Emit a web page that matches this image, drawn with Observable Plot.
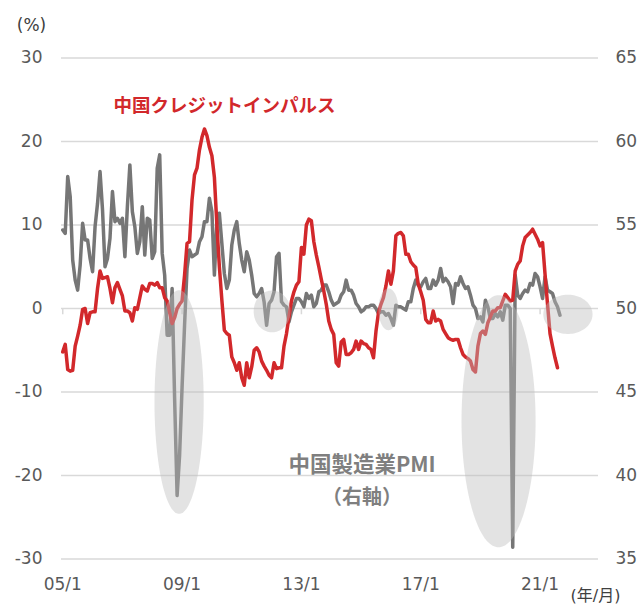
<!DOCTYPE html>
<html>
<head>
<meta charset="utf-8">
<script src="https://cdn.jsdelivr.net/npm/d3@7"></script>
<script src="https://cdn.jsdelivr.net/npm/@observablehq/plot@0.6"></script>
<style>
  html, body { margin: 0; padding: 0; background: #ffffff; }
  #chart { width: 640px; height: 605px; }
</style>
</head>
<body>
<div id="chart"></div>
<script>
// Monthly series, first value = January 2005
const startLabel = "2005-01";

// China credit impulse (%), left axis, Jan 2005 – Aug 2021
const creditImpulse = [
  -5.2, -4.3, -7.3, -7.5, -7.4, -4.5, -3.3, -2.0, -0.1, 0.0, -1.8, -0.5,   // 2005
  -0.4, -0.4, 2.4, 4.5, 3.6, 3.7, 3.8, 2.4, 0.7, 2.5, 3.1, 2.3,            // 2006
  1.5, -0.3, -0.3, -0.5, -1.5, 0.1, -0.1, 1.3, 2.7, 2.3, 2.1, 3.0,         // 2007
  3.0, 2.8, 3.1, 2.5, 2.5, 1.3, 0.9, -0.5, -1.8, -1.1, 0.0, 0.5,          // 2008
  0.9, 4.0, 7.8, 8.0, 13.0, 16.0, 16.8, 19.0, 20.5, 21.5, 20.7, 19.3,      // 2009
  18.3, 15.7, 10.0, 5.0, 1.0, -2.6, -3.0, -3.2, -5.8, -6.5, -7.4, -6.5,    // 2010
  -8.3, -9.2, -6.5, -8.3, -7.0, -5.0, -4.7, -5.2, -6.3, -6.9, -7.4, -8.0,  // 2011
  -8.3, -6.5, -7.2, -7.1, -7.1, -4.5, -3.0, -1.0, 0.9, 2.0, 2.8, 3.2,      // 2012
  7.3, 6.5, 10.0, 10.7, 10.5, 8.0, 6.4, 5.0, 3.5, 2.1, 0.5, -1.5,          // 2013
  -2.5, -3.1, -6.5, -6.9, -4.0, -3.7, -5.5, -5.5, -5.3, -4.9, -3.9, -4.9,  // 2014
  -3.9, -4.2, -4.3, -4.7, -4.9, -5.9, -2.7, -0.5, 0.5, 1.3, 2.7, 4.5,      // 2015
  2.9, 4.5, 8.7, 9.0, 9.1, 8.7, 6.5, 6.5, 5.6, 5.2, 4.9, 2.9,              // 2016
  2.0, 1.0, -1.3, -1.7, -1.7, -0.3, -1.5, -1.3, -1.5, -2.5, -3.0, -3.5,    // 2017
  -3.7, -3.8, -3.7, -3.7, -4.7, -5.5, -5.8, -6.0, -6.3, -7.3, -7.6, -4.5,  // 2018
  -3.0, -2.7, -3.1, -1.7, -1.0, -0.3, -0.3, 0.1, 0.1, 0.9, 1.7, 1.3,       // 2019
  0.9, 1.0, 4.5, 5.3, 5.7, 7.5, 8.5, 8.8, 9.1, 9.5, 8.9, 8.3,              // 2020
  7.5, 7.9, 4.1, 0.5, -3.0, -4.5, -5.9, -7.1                               // 2021
];

// China manufacturing PMI, right axis, Jan 2005 – Sep 2021
const pmi = [
  54.7, 54.5, 57.9, 56.7, 52.9, 51.7, 51.1, 52.6, 55.1, 54.1, 54.1, 53.0,  // 2005
  52.2, 54.9, 56.3, 58.2, 55.9, 52.5, 53.0, 54.2, 57.0, 55.2, 55.4, 55.1,  // 2006
  55.4, 53.1, 56.1, 58.6, 55.8, 54.9, 53.3, 54.0, 56.1, 53.2, 55.4, 55.3,  // 2007
  53.0, 53.4, 58.4, 59.2, 53.3, 52.0, 48.4, 48.4, 51.2, 44.6, 38.8, 41.2,  // 2008
  45.3, 49.0, 52.4, 53.5, 53.1, 53.2, 53.3, 54.0, 54.3, 55.2, 55.2, 56.6,  // 2009
  55.8, 52.0, 55.1, 55.7, 53.9, 52.1, 51.2, 51.7, 53.8, 54.7, 55.2, 53.9,  // 2010
  52.9, 52.2, 53.4, 52.9, 52.0, 50.9, 50.7, 50.9, 51.2, 50.4, 49.0, 50.3,  // 2011
  50.5, 51.0, 53.1, 53.3, 50.4, 50.2, 50.1, 49.2, 49.8, 50.2, 50.6, 50.6,  // 2012
  50.4, 50.1, 50.9, 50.6, 50.8, 50.1, 50.3, 51.0, 51.1, 51.4, 51.4, 51.0,  // 2013
  50.5, 50.2, 50.3, 50.4, 50.8, 51.0, 51.7, 51.1, 51.1, 50.8, 50.3, 50.1,  // 2014
  49.8, 49.9, 50.1, 50.1, 50.2, 50.2, 50.0, 49.7, 49.8, 49.8, 49.6, 49.7,  // 2015
  49.4, 49.0, 50.2, 50.1, 50.1, 50.0, 49.9, 50.4, 50.4, 51.2, 51.7, 51.4,  // 2016
  51.3, 51.6, 51.8, 51.2, 51.2, 51.7, 51.4, 51.7, 52.4, 51.6, 51.8, 51.6,  // 2017
  51.3, 50.3, 51.5, 51.4, 51.9, 51.5, 51.2, 51.3, 50.8, 50.2, 50.0, 49.4,  // 2018
  49.5, 49.2, 50.5, 50.1, 49.4, 49.4, 49.7, 49.5, 49.8, 49.3, 50.2, 50.2,  // 2019
  50.0, 35.7, 52.0, 50.8, 50.6, 50.9, 51.1, 51.0, 51.5, 51.4, 52.1, 51.9,  // 2020
  51.3, 50.6, 51.9, 51.1, 51.0, 50.9, 50.4, 50.1, 49.6                     // 2021
];

// axes
const leftTicks = [30, 20, 10, 0, -10, -20, -30];
const leftTickLabels = ["30", "20", "10", "0", "-10", "-20", "-30"];
const rightTickLabels = ["65", "60", "55", "50", "45", "40", "35"];
const xTickMonths = [0, 48, 96, 144, 192];          // months since Jan 2005
const xTickLabels = ["05/1", "09/1", "13/1", "17/1", "21/1"];
const monthsShown = 216;                            // Jan 2005 – Dec 2022

// highlight ellipses (centre month, centre value on left axis, radii)
const ellipseMonth = [46.8, 84.2, 131.0, 175.3, 203.2];
const ellipseValue = [-11.2, -0.35, -0.1, -13.5, -0.7];
const ellipseRadiusMonths = [9.9, 7.4, 4.0, 14.9, 9.9];
const ellipseRadiusValue = [13.4, 2.5, 2.5, 15.1, 2.35];

// ---------- build tables ----------
const pmiToLeft = p => (p - 50) * 2;   // right axis 35..65 <-> left axis -30..30
const redData = creditImpulse.map((v, i) => ({m: i, v}));
const grayData = pmi.map((p, i) => ({m: i, v: pmiToLeft(p)}));
const ellipsePts = [];
ellipseMonth.forEach((cm, k) => {
  const steps = 90;
  for (let s = 0; s < steps; s++) {
    const a = (s / steps) * 2 * Math.PI;
    ellipsePts.push({
      id: k,
      m: cm + ellipseRadiusMonths[k] * Math.cos(a),
      v: ellipseValue[k] + ellipseRadiusValue[k] * Math.sin(a)
    });
  }
});

const RED = "#d2282b";
const GRAY = "#767676";
const GRID = "#d9d9d9";
const LABEL = "#595959";
const CJK = "'Noto Sans CJK JP', 'DejaVu Sans', sans-serif";

const chart = Plot.plot({
  width: 640,
  height: 605,
  marginLeft: 61,
  marginRight: 42,
  marginTop: 57.5,
  marginBottom: 46.5,
  style: {fontFamily: "'DejaVu Sans', sans-serif", color: LABEL, background: "#ffffff"},
  x: {domain: [-0.5, monthsShown - 0.5], axis: null},
  y: {domain: [-30, 30], axis: null},
  marks: [
    Plot.ruleY(leftTicks, {stroke: GRID, strokeWidth: 1.5}),
    Plot.ruleX(xTickMonths, {y1: 0, y2: -0.75, stroke: GRID, strokeWidth: 1.5}),
    Plot.axisY(leftTicks, {anchor: "left", tickSize: 0, tickPadding: 19, fontSize: 17, fill: LABEL, label: null,
      tickFormat: d => leftTickLabels[leftTicks.indexOf(d)]}),
    Plot.axisY(leftTicks, {anchor: "right", tickSize: 0, tickPadding: 17, fontSize: 17, fill: LABEL, label: null,
      tickFormat: d => rightTickLabels[leftTicks.indexOf(d)]}),
    Plot.axisX(xTickMonths, {anchor: "bottom", tickSize: 0, tickPadding: 19, fontSize: 17, fill: LABEL, label: null,
      tickFormat: d => xTickLabels[xTickMonths.indexOf(d)]}),
    Plot.line(grayData, {x: "m", y: "v", stroke: GRAY, strokeWidth: 3.5, strokeLinejoin: "round"}),
    Plot.line(redData, {x: "m", y: "v", stroke: RED, strokeWidth: 3.5, strokeLinejoin: "round"}),
    Plot.line(ellipsePts, {x: "m", y: "v", z: "id", fill: "#bdbdbd", fillOpacity: 0.42, stroke: "none", curve: "linear-closed"}),
    Plot.text(["中国クレジットインパルス"], {x: 65.1, y: 24.3, text: d => d, fill: RED, fontWeight: "bold",
      fontSize: 18.5, fontFamily: CJK, textAnchor: "middle", lineAnchor: "middle"}),
    Plot.text(["中国製造業PMI"], {x: 120.4, y: -18.7, text: d => d, fill: "#7f7f7f", fontWeight: "bold",
      fontSize: 21.5, fontFamily: CJK, textAnchor: "middle", lineAnchor: "middle"}),
    Plot.text(["（右軸）"], {x: 120.4, y: -22.6, text: d => d, fill: "#7f7f7f", fontWeight: "bold",
      fontSize: 20, fontFamily: CJK, textAnchor: "middle", lineAnchor: "middle"}),
    Plot.text(["(%)"], {frameAnchor: "top-left", dx: -30, dy: -32, text: d => d, fill: "#404040",
      fontSize: 17, textAnchor: "middle", lineAnchor: "middle"}),
    Plot.text(["(年/月)"], {frameAnchor: "bottom-right", dx: -3, dy: 37, text: d => d, fill: "#404040",
      fontSize: 16, fontFamily: "'DejaVu Sans', 'Noto Sans CJK JP', sans-serif", textAnchor: "middle", lineAnchor: "middle"})
  ]
});
document.getElementById("chart").appendChild(chart);
</script>
</body>
</html>
